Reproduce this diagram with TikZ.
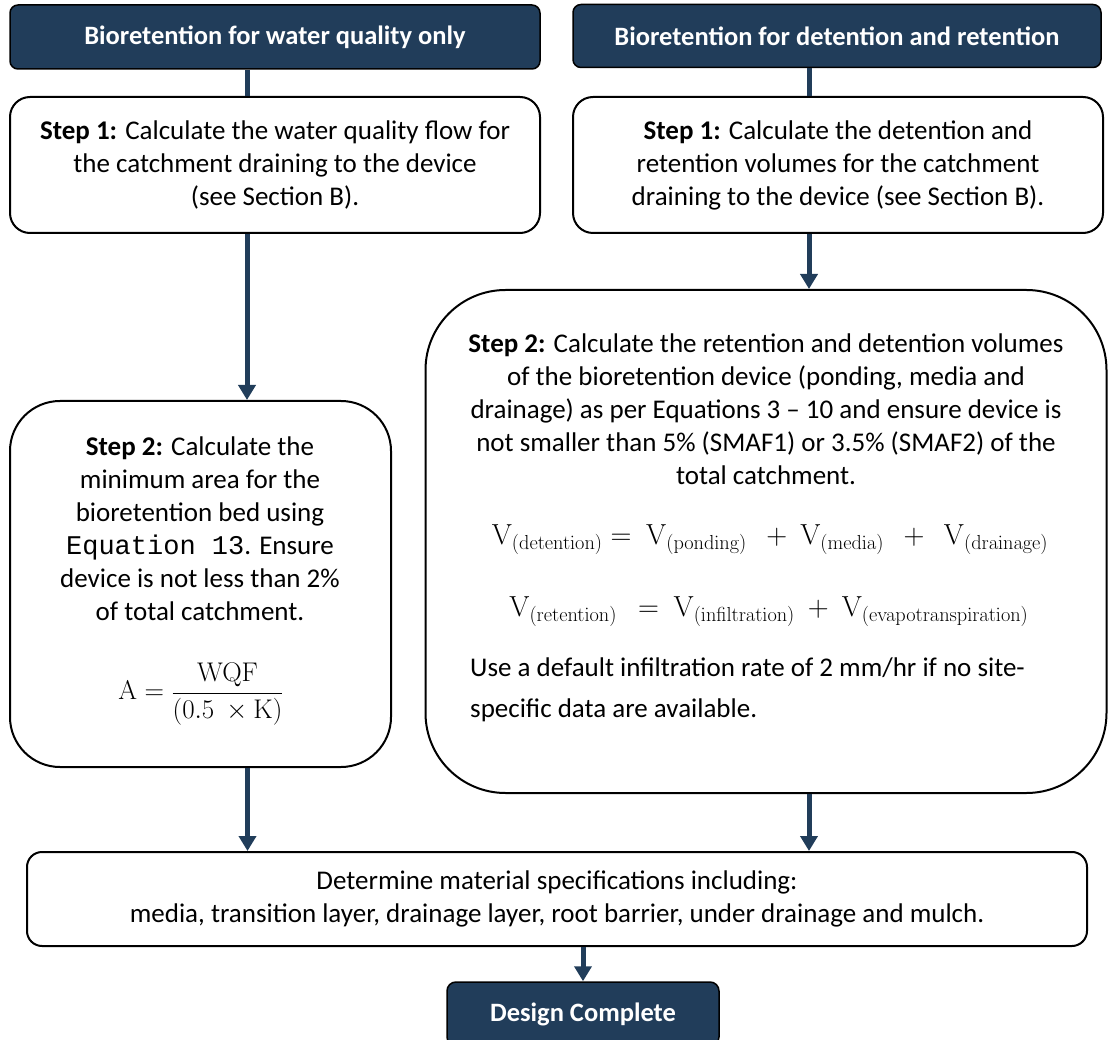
\RequirePackage{fix-cm}
\documentclass[tikz,border=0pt]{standalone}
\usepackage[no-math]{fontspec}
\setmainfont{Carlito}
\newfontfamily\eqmono{Liberation Mono}
\usetikzlibrary{arrows.meta}
\definecolor{navy}{RGB}{33,61,90}
\begin{document}
\begin{tikzpicture}[x=1pt,y=-1pt,
  hdr/.style={draw=black, line width=1.5pt, fill=navy, rounded corners=8pt, text=white,
    font=\bfseries\fontsize{26.5}{30}\selectfont, inner sep=0pt},
  box/.style={draw=black, line width=2pt, fill=white, inner sep=0pt, align=center,
    font=\fontsize{27}{33}\selectfont},
  txt/.style={align=center, font=\fontsize{27}{33}\selectfont, inner sep=0pt},
  eqn/.style={inner sep=0pt, font=\fontsize{29}{32}\selectfont},
  arr/.style={draw=navy, line width=5pt, -{Triangle[width=17pt,length=15pt]}},
  lnk/.style={draw=navy, line width=5pt}]
\useasboundingbox (0,0) rectangle (1109,1040);
\clip (0,0) rectangle (1109,1040);

% headers
\node[hdr, minimum width=530pt, minimum height=64pt] (hL) at (275,37) {Bioretention for water quality only};
\node[hdr, minimum width=528pt, minimum height=63pt] (hR) at (837,36) {Bioretention for detention and retention};

% step 1 boxes
\node[box, rounded corners=20pt, minimum width=530pt, minimum height=136pt] (s1L) at (275,165)
  {\textbf{Step 1:} Calculate the water quality flow for\\ the catchment draining to the device\\ (see Section B).};
\node[box, rounded corners=20pt, minimum width=530pt, minimum height=136pt] (s1R) at (838,165)
  {\textbf{Step 1:} Calculate the detention and\\ retention volumes for the catchment\\ draining to the device (see Section B).};

% step 2 boxes
\node[box, rounded corners=50pt, minimum width=381pt, minimum height=366pt] (s2L) at (200.5,584) {};
\node[box, rounded corners=80pt, minimum width=681pt, minimum height=503pt] (s2R) at (766,541.5) {};

% bottom box
\node[box, rounded corners=15pt, minimum width=1060pt, minimum height=94pt] (bot) at (557,899)
  {Determine material specifications including:\\ media, transition layer, drainage layer, root barrier, under drainage and mulch.};

% design complete
\node[hdr, rounded corners=9pt, minimum width=272pt, minimum height=64pt] (dc) at (583,1014) {Design Complete};

% step 2 left contents
\node[txt] (t2L) at (200,529)
  {\textbf{Step 2:} Calculate the\\ minimum area for the\\ bioretention bed using\\ {\eqmono Equation 13}. Ensure\\ device is not less than 2\%\\ of total catchment.};
\node[eqn, font=\fontsize{27}{30}\selectfont] (f2L) at (201,694) {$\displaystyle \mathrm{A} = \frac{\mathrm{WQF}}{(0.5\ \times \mathrm{K})}$};

% step 2 right contents
\node[txt] (t2R) at (766,409)
  {\textbf{Step 2:} Calculate the retention and detention volumes\\ of the bioretention device (ponding, media and\\ drainage) as per Equations 3 -- 10 and ensure device is\\ not smaller than 5\% (SMAF1) or 3.5\% (SMAF2) of the\\ total catchment.};
\node[eqn] (e1) at (770,540) {$\mathrm{V}_{\mathrm{(detention)}} =\ \mathrm{V}_{\mathrm{(ponding)}}\ \ +\ \mathrm{V}_{\mathrm{(media)}}\ \ +\ \ \mathrm{V}_{\mathrm{(drainage)}}$};
\node[eqn] (e2) at (769,612) {$\mathrm{V}_{\mathrm{(retention)}}\ \ =\ \mathrm{V}_{\mathrm{(infiltration)}}\ +\ \mathrm{V}_{\mathrm{(evapotranspiration)}}$};
\node[txt, align=left, anchor=west, font=\fontsize{27}{41}\selectfont] (p2R) at (470,690)
  {Use a default infiltration rate of 2 mm/hr if no site-\\ specific data are available.};

% connectors
\draw[lnk] ([xshift=-28pt]hL.south) -- ([xshift=-28pt]hL.south |- s1L.north);
\draw[lnk] ([xshift=-28pt]hR.south) -- ([xshift=-28pt]hR.south |- s1R.north);
\draw[arr] ([xshift=-28pt]s1L.south) -- ([xshift=-28pt]s1L.south |- s2L.north);
\draw[arr] ([xshift=-29pt]s1R.south) -- ([xshift=-29pt]s1R.south |- s2R.north);
\draw[arr] ([xshift=47pt]s2L.south) -- ([xshift=47pt]s2L.south |- bot.north);
\draw[arr] ([xshift=43pt]s2R.south) -- ([xshift=43pt]s2R.south |- bot.north);
\draw[arr] (bot.south -| dc.north) -- (dc.north);
\end{tikzpicture}
\end{document}
